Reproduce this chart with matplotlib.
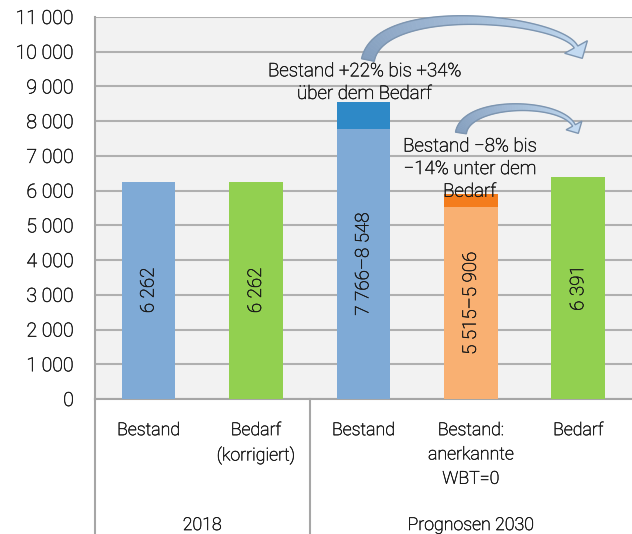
import numpy as np
import matplotlib.pyplot as plt
import matplotlib.patheffects as pe
from matplotlib.patches import Polygon
from matplotlib.colors import to_rgb

plt.rcParams['font.family'] = ['Roboto', 'DejaVu Sans']
plt.rcParams['font.weight'] = 'light'

# Daten
kategorien = ['Bestand', 'Bedarf\n(korrigiert)', 'Bestand', 'Bestand:\nanerkannte\nWBT=0', 'Bedarf']
gruppen = ['2018', 'Prognosen 2030']
gruppen_groesse = [2, 3]
unten = [6262, 6262, 7766, 5515, 6391]
oben = [6262, 6262, 8548, 5906, 6391]
beschriftung = ['6 262', '6 262', '7 766–8 548', '5 515–5 906', '6 391']
farbe_unten = ['#7faad6', '#92d050', '#7faad6', '#f9b072', '#92d050']
farbe_oben = ['#7faad6', '#92d050', '#2e89c7', '#f47c1c', '#92d050']
yticks = np.arange(0, 11001, 1000)
txt = '#1a1a1a'
dick = [pe.withStroke(linewidth=0.35, foreground=txt)]

fig = plt.figure(figsize=(6.32, 5.34), dpi=100)
ax = fig.add_axes([0.150, 0.2528, 0.85, 0.7154])
ax.set_facecolor('#f2f2f2')

x = np.arange(len(kategorien))
ax.bar(x, unten, width=0.5, color=farbe_unten, zorder=3)
ax.bar(x, np.array(oben) - np.array(unten), bottom=unten, width=0.5, color=farbe_oben, zorder=3)

for xi, u, t in zip(x, unten, beschriftung):
    ax.text(xi, u / 2, t, rotation=90, ha='center', va='center', fontsize=13.5, color=txt,
            zorder=4, path_effects=dick)

ax.set_xlim(-0.5, 4.5)
ax.set_ylim(0, 11000)
ax.set_yticks(yticks)
ax.set_yticklabels([f'{v:,}'.replace(',', ' ') for v in yticks], fontsize=14, color=txt)
for lbl in ax.get_yticklabels():
    lbl.set_path_effects(dick)
ax.tick_params(axis='y', length=0, pad=15)
ax.set_xticks([])
ax.grid(axis='y', color='#b0b0b0', linewidth=1.5, zorder=0)
for s in ['top', 'right']:
    ax.spines[s].set_visible(False)
for s in ['left', 'bottom']:
    ax.spines[s].set_color('#a6a6a6')
    ax.spines[s].set_linewidth(1.5)

# Kategorien unter der Achse
for xi, k in zip(x, kategorien):
    ax.text(xi, -0.058, k, transform=ax.get_xaxis_transform(), ha='center', va='top',
            fontsize=12.8, color=txt, linespacing=1.45, path_effects=dick)

# Gruppen
start = -0.5
for g, n in zip(gruppen, gruppen_groesse):
    ax.text(start + n / 2, -0.33, g, transform=ax.get_xaxis_transform(), ha='center', va='center',
            fontsize=12.8, color=txt, path_effects=dick)
    ax.plot([start, start], [0, -0.36], transform=ax.get_xaxis_transform(), color='#a6a6a6',
            lw=1.5, clip_on=False, zorder=5)
    start += n

# Anmerkungen
ax.text(2.01, 9110, 'Bestand +22% bis +34%\nüber dem Bedarf', ha='center', va='center',
        fontsize=13.5, color=txt, linespacing=1.33, zorder=5, path_effects=dick)
ax.text(2.99, 6620, 'Bestand −8% bis\n−14% unter dem\nBedarf', ha='center', va='center',
        fontsize=13.5, color=txt, linespacing=1.33, zorder=5, path_effects=dick)


def bogenpfeil(ctrl, w0, w1, hw, hl):
    # gebogener, sich verjuengender Blockpfeil (kubische Bezierkurve), in Pixeln gerechnet
    P = ax.transData.transform(np.array(ctrl))
    t = np.linspace(0, 1, 60)[:, None]
    B = ((1 - t) ** 3 * P[0] + 3 * (1 - t) ** 2 * t * P[1]
         + 3 * (1 - t) * t ** 2 * P[2] + t ** 3 * P[3])
    D = (3 * (1 - t) ** 2 * (P[1] - P[0]) + 6 * (1 - t) * t * (P[2] - P[1])
         + 3 * t ** 2 * (P[3] - P[2]))
    D = D / np.linalg.norm(D, axis=1)[:, None]
    N = np.column_stack([-D[:, 1], D[:, 0]])
    w = (w0 + (w1 - w0) * t) / 2
    links = B + N * w
    rechts = B - N * w
    c0, c1 = np.array(to_rgb('#859fbe')), np.array(to_rgb('#c3daf1'))
    for i in range(len(B) - 1):
        f = i / (len(B) - 2)
        q = [links[i], links[i + 1], rechts[i + 1], rechts[i]]
        ax.add_patch(Polygon(q, closed=True, transform=None, facecolor=c0 + (c1 - c0) * f,
                             edgecolor=c0 + (c1 - c0) * f, lw=0.5, zorder=6, clip_on=False))
    ende, d, n = B[-1], D[-1], N[-1]
    kopf = [ende + n * hw / 2, ende + d * hl, ende - n * hw / 2]
    ax.add_patch(Polygon(kopf, closed=True, transform=None, facecolor=c1,
                         edgecolor='none', zorder=6, clip_on=False))
    umriss = np.vstack([links, kopf, rechts[::-1]])
    ax.add_patch(Polygon(umriss, closed=True, transform=None, facecolor='none',
                         edgecolor='#7d95b0', lw=1.0, zorder=7, clip_on=False))


bogenpfeil([(2.042, 9762), (2.154, 11490), (3.830, 10971), (3.979, 10136)], 13, 4, 26, 13)
bogenpfeil([(2.908, 7660), (2.954, 8610), (3.830, 8610), (3.960, 7876)], 11, 3, 18, 9)

fig.savefig('out.png', dpi=100)
